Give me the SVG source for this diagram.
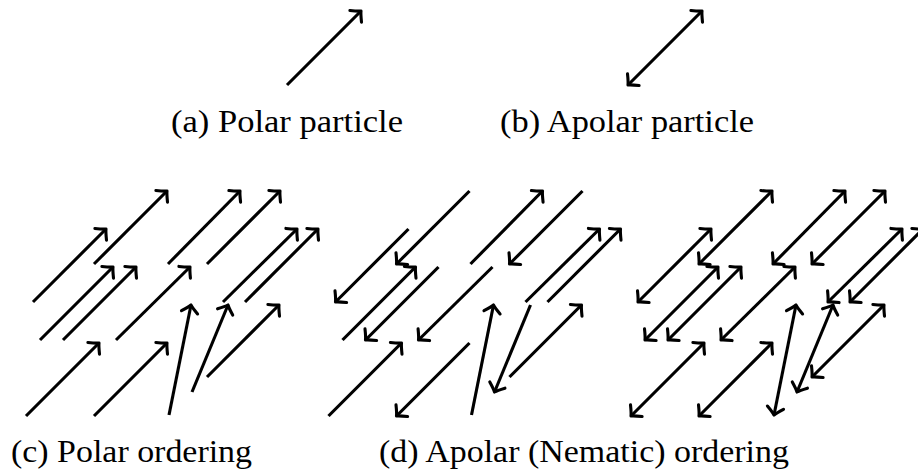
<svg xmlns="http://www.w3.org/2000/svg" width="918" height="474" viewBox="0 0 918 474">
<style>
  .s { stroke: #000; stroke-width: 3.1; fill: none; stroke-linecap: butt; }
  .f { marker-end: url(#tip); }
  .r { marker-start: url(#tip); }
  .b { marker-start: url(#tip); marker-end: url(#tip); }
  .lbl { font-family: "Liberation Serif", "DejaVu Serif", serif; font-size: 32px; fill: #000; }
</style>
<defs>
  <marker id="tip" markerUnits="userSpaceOnUse" viewBox="-12 -12 24 24" markerWidth="24" markerHeight="24" refX="0" refY="0" orient="auto-start-reverse" overflow="visible">
    <path d="M -7.5,-8.2 C -4.5,-4.5 -1.8,-1.4 0,0 C -1.8,1.4 -4.5,4.5 -7.5,8.2" fill="none" stroke="#000" stroke-width="3.1" stroke-linecap="round" stroke-linejoin="round"/>
  </marker>
</defs>

<g id="panel-a">
  <line class="s f" x1="287" y1="85" x2="361" y2="11"/>
  <text class="lbl" x="171" y="132" textLength="232" lengthAdjust="spacingAndGlyphs">(a) Polar particle</text>
</g>

<g id="panel-b">
  <line class="s b" x1="628" y1="85" x2="702" y2="11"/>
  <text class="lbl" x="500" y="132" textLength="254" lengthAdjust="spacingAndGlyphs">(b) Apolar particle</text>
</g>

<g id="panel-c">
  <g id="connectors-c">
    <line class="s f" x1="33" y1="302" x2="106" y2="229"/>
    <line class="s f" x1="94" y1="264" x2="167" y2="191"/>
    <line class="s f" x1="40" y1="340" x2="113" y2="267"/>
    <line class="s f" x1="63" y1="340" x2="136" y2="267"/>
    <line class="s f" x1="168" y1="264" x2="240" y2="191"/>
    <line class="s f" x1="207" y1="264" x2="280" y2="191"/>
    <line class="s f" x1="116" y1="340" x2="190" y2="267"/>
    <line class="s f" x1="223" y1="302" x2="297" y2="229"/>
    <line class="s f" x1="245" y1="302" x2="318" y2="229"/>
    <line class="s f" x1="26" y1="416" x2="99" y2="343"/>
    <line class="s f" x1="94" y1="416" x2="167" y2="343"/>
    <line class="s f" x1="169" y1="415" x2="191" y2="305"/>
    <line class="s f" x1="192" y1="392" x2="228" y2="305"/>
    <line class="s f" x1="207" y1="377" x2="279" y2="305"/>
  </g>
  <text class="lbl" x="11" y="462" textLength="241" lengthAdjust="spacingAndGlyphs">(c) Polar ordering</text>
</g>

<g id="panel-d">
  <g id="connectors-d" transform="translate(302.5,0)">
    <line class="s r" x1="33" y1="302" x2="106" y2="229"/>
    <line class="s r" x1="94" y1="264" x2="167" y2="191"/>
    <line class="s f" x1="40" y1="340" x2="113" y2="267"/>
    <line class="s r" x1="63" y1="340" x2="136" y2="267"/>
    <line class="s f" x1="168" y1="264" x2="240" y2="191"/>
    <line class="s r" x1="207" y1="264" x2="280" y2="191"/>
    <line class="s r" x1="116" y1="340" x2="190" y2="267"/>
    <line class="s f" x1="223" y1="302" x2="297" y2="229"/>
    <line class="s f" x1="245" y1="302" x2="318" y2="229"/>
    <line class="s f" x1="26" y1="416" x2="99" y2="343"/>
    <line class="s r" x1="94" y1="416" x2="167" y2="343"/>
    <line class="s f" x1="169" y1="415" x2="191" y2="305"/>
    <line class="s r" x1="192" y1="392" x2="228" y2="305"/>
    <line class="s f" x1="207" y1="377" x2="279" y2="305"/>
  </g>
  <text class="lbl" x="379" y="462" textLength="410" lengthAdjust="spacingAndGlyphs">(d) Apolar (Nematic) ordering</text>
</g>

<g id="panel-e">
  <g id="connectors-e" transform="translate(605,0)">
    <line class="s b" x1="33" y1="302" x2="106" y2="229"/>
    <line class="s b" x1="94" y1="264" x2="167" y2="191"/>
    <line class="s b" x1="40" y1="340" x2="113" y2="267"/>
    <line class="s b" x1="63" y1="340" x2="136" y2="267"/>
    <line class="s b" x1="168" y1="264" x2="240" y2="191"/>
    <line class="s b" x1="207" y1="264" x2="280" y2="191"/>
    <line class="s b" x1="116" y1="340" x2="190" y2="267"/>
    <line class="s b" x1="223" y1="302" x2="297" y2="229"/>
    <line class="s b" x1="245" y1="302" x2="318" y2="229"/>
    <line class="s b" x1="26" y1="416" x2="99" y2="343"/>
    <line class="s b" x1="94" y1="416" x2="167" y2="343"/>
    <line class="s b" x1="169" y1="415" x2="191" y2="305"/>
    <line class="s b" x1="192" y1="392" x2="228" y2="305"/>
    <line class="s b" x1="207" y1="377" x2="279" y2="305"/>
  </g>
</g>
</svg>
